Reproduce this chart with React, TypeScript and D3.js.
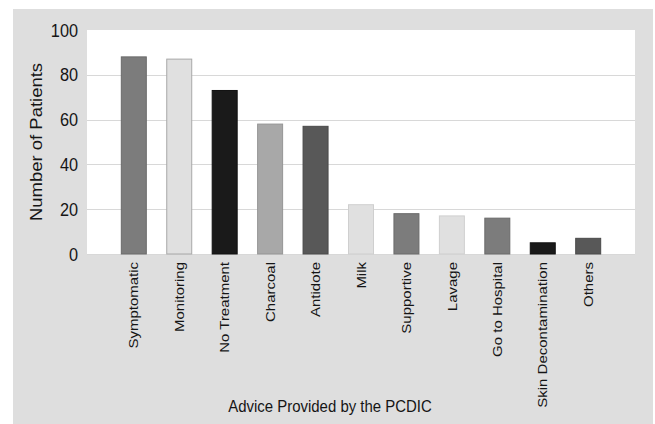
import { useEffect, useRef } from "react";
import * as d3 from "d3";

const categories = [
  "Symptomatic",
  "Monitoring",
  "No Treatment",
  "Charcoal",
  "Antidote",
  "Milk",
  "Supportive",
  "Lavage",
  "Go to Hospital",
  "Skin Decontamination",
  "Others",
];
const patients = [88, 87, 73, 58, 57, 22, 18, 17, 16, 5, 7];
const barColors = [
  "#7c7c7c",
  "#e0e0e0",
  "#1a1a1a",
  "#a8a8a8",
  "#585858",
  "#e0e0e0",
  "#7c7c7c",
  "#e0e0e0",
  "#7c7c7c",
  "#1a1a1a",
  "#585858",
];
const barStrokes = [
  "#6a6a6a",
  "#a8a8a8",
  "#111111",
  "#959595",
  "#4a4a4a",
  "#cfcfcf",
  "#6a6a6a",
  "#cfcfcf",
  "#6a6a6a",
  "#111111",
  "#4a4a4a",
];
const yTicks = [0, 20, 40, 60, 80, 100];

const WIDTH = 655;
const HEIGHT = 424;
// plot area inside the grey panel
const PLOT = { left: 87, top: 30, right: 635, bottom: 254 };
const FONT = "'Liberation Sans', Arial, sans-serif";
const SQUASH = 0.88; // the original text looks horizontally narrowed

export default function App() {
  const ref = useRef<SVGSVGElement>(null);

  useEffect(() => {
    document.body.style.margin = "0";
    const svg = d3.select(ref.current);
    svg.selectAll("*").remove();

    const x = d3
      .scaleBand()
      .domain(categories)
      .range([PLOT.left, PLOT.right])
      .paddingInner(0.45)
      .paddingOuter(0.755);

    const y = d3.scaleLinear().domain([0, 100]).range([PLOT.bottom, PLOT.top]);

    // grey panel + white plot area
    svg
      .append("rect")
      .attr("x", 13)
      .attr("y", 9)
      .attr("width", 640)
      .attr("height", HEIGHT - 9)
      .attr("fill", "#dedede");
    svg
      .append("rect")
      .attr("x", PLOT.left)
      .attr("y", PLOT.top)
      .attr("width", PLOT.right - PLOT.left)
      .attr("height", PLOT.bottom - PLOT.top)
      .attr("fill", "#ffffff");

    // gridlines
    svg
      .append("g")
      .selectAll("line")
      .data(yTicks.filter((t) => t < 100))
      .join("line")
      .attr("x1", PLOT.left)
      .attr("x2", PLOT.right)
      .attr("y1", (d) => Math.round(y(d)) + 0.5)
      .attr("y2", (d) => Math.round(y(d)) + 0.5)
      .attr("stroke", "#d8d8d8")
      .attr("stroke-width", 1.2);

    // y tick labels
    svg
      .append("g")
      .selectAll("text")
      .data(yTicks)
      .join("text")
      .attr("transform", (d) => `translate(78,${y(d)}) scale(${SQUASH},1)`)
      .attr("dy", "0.36em")
      .attr("text-anchor", "end")
      .style("font-family", FONT)
      .style("font-size", "18.5px")
      .attr("fill", "#151515")
      .text((d) => d);

    // bars
    svg
      .append("g")
      .selectAll("rect")
      .data(categories)
      .join("rect")
      .attr("x", (d) => x(d)!)
      .attr("y", (d, i) => y(patients[i]))
      .attr("width", x.bandwidth())
      .attr("height", (d, i) => y(0) - y(patients[i]))
      .attr("fill", (d, i) => barColors[i])
      .attr("stroke", (d, i) => barStrokes[i])
      .attr("stroke-width", 1);

    // x labels, rotated
    svg
      .append("g")
      .selectAll("text")
      .data(categories)
      .join("text")
      .attr(
        "transform",
        (d) =>
          `translate(${x(d)! + x.bandwidth() / 2},262) scale(${SQUASH},1) rotate(-90)`
      )
      .attr("dy", "0.35em")
      .attr("text-anchor", "end")
      .style("font-family", FONT)
      .style("font-size", "15px")
      .attr("fill", "#151515")
      .text((d) => d);

    // axis titles
    svg
      .append("text")
      .attr(
        "transform",
        `translate(42,${(PLOT.top + PLOT.bottom) / 2}) scale(${SQUASH},1) rotate(-90)`
      )
      .attr("text-anchor", "middle")
      .style("font-family", FONT)
      .style("font-size", "18.5px")
      .attr("fill", "#151515")
      .text("Number of Patients");

    svg
      .append("text")
      .attr("transform", `translate(330,412) scale(${SQUASH},1)`)
      .attr("text-anchor", "middle")
      .style("font-family", FONT)
      .style("font-size", "17px")
      .attr("fill", "#151515")
      .text("Advice Provided by the PCDIC");
  }, []);

  return (
    <svg
      ref={ref}
      width={WIDTH}
      height={HEIGHT}
      style={{ display: "block", background: "#ffffff" }}
    />
  );
}
